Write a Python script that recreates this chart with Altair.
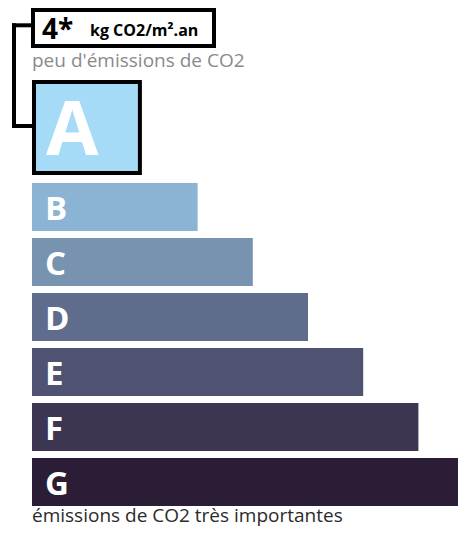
import altair as alt
import pandas as pd

# ---- data ----
classes = ["A", "B", "C", "D", "E", "F", "G"]
lengths = [2, 3, 4, 5, 6, 7, 8]          # relative bar lengths (class rank)
colors = ["#a6dbf7", "#8bb3d4", "#7793b0", "#5f6c8c", "#4f5270", "#3c3653", "#2b1d36"]
current_class = "A"
value_label = "4*"
unit_label = "kg CO2/m².an"
top_caption = "peu d'émissions de CO2"
bottom_caption = "émissions de CO2 très importantes"

# ---- layout ----
W, H = 426, 519
PX = 55.2                 # px per length unit
ROW = 55.0                # px per row
X_MAX = W / PX
Y0 = 1 - 175 / ROW
Y1 = Y0 + H / ROW
BAR_H = 48 / ROW
FONT = "Open Sans"

rows = []
for i, (c, l) in enumerate(zip(classes, lengths)):
    if c == current_class:
        y0, y1 = Y0 + 74 / ROW, Y0 + 165 / ROW
        ty = Y0 + 147 / ROW
    else:
        y0, y1 = float(i), i + BAR_H
        ty = i + 36.5 / ROW
    rows.append({"cls": c, "len": l, "y0": y0, "y1": y1, "ty": ty})
df = pd.DataFrame(rows)

xs = alt.Scale(domain=[0, X_MAX], nice=False, zero=False)
ys = alt.Scale(domain=[Y0, Y1], nice=False, zero=False, reverse=True)
cs = alt.Scale(domain=classes, range=colors)

base = alt.Chart(df)

bars = base.transform_filter(alt.datum.cls != current_class).transform_calculate(x0="0").mark_rect(clip=True).encode(
    x=alt.X("x0:Q", scale=xs, axis=None),
    x2="len:Q",
    y=alt.Y("y0:Q", scale=ys, axis=None),
    y2="y1:Q",
    color=alt.Color("cls:N", scale=cs, legend=None),
)

abox = base.transform_filter(alt.datum.cls == current_class).transform_calculate(x0="0").mark_rect(
    stroke="black", strokeWidth=4, xOffset=2, x2Offset=-2.5
).encode(
    x=alt.X("x0:Q", scale=xs, axis=None),
    x2="len:Q",
    y=alt.Y("y0:Q", scale=ys, axis=None),
    y2="y1:Q",
    color=alt.Color("cls:N", scale=cs, legend=None),
)

letters = base.transform_filter(alt.datum.cls != current_class).mark_text(
    align="left", baseline="alphabetic", font=FONT, fontSize=33, fontWeight="bold", color="white"
).encode(
    x=alt.value(13),
    y=alt.Y("ty:Q", scale=ys, axis=None),
    text="cls:N",
)

aletter = base.transform_filter(alt.datum.cls == current_class).mark_text(
    align="left", baseline="alphabetic", font=FONT, fontSize=76, fontWeight="bold", color="white"
).encode(
    x=alt.value(14),
    y=alt.Y("ty:Q", scale=ys, axis=None),
    text="cls:N",
)

one = alt.Chart(pd.DataFrame({"v": [value_label], "u": [unit_label],
                              "t": [top_caption], "b": [bottom_caption]}))

topbox = one.mark_rect(fill="white", stroke="black", strokeWidth=4).encode(
    x=alt.value(1), x2=alt.value(182), y=alt.value(2), y2=alt.value(38)
)
vtxt = one.mark_text(align="left", baseline="alphabetic", font=FONT, fontSize=28,
                     fontWeight="bold", color="black").encode(
    x=alt.value(10), y=alt.value(30.5), text="v:N")
utxt = one.mark_text(align="left", baseline="alphabetic", font=FONT, fontSize=16,
                     fontWeight="bold", color="black").encode(
    x=alt.value(58), y=alt.value(27.5), text="u:N")
ttxt = one.mark_text(align="left", baseline="alphabetic", font=FONT, fontSize=19,
                     color="#8a8a8a").encode(
    x=alt.value(0), y=alt.value(58.7), text="t:N")
btxt = one.mark_text(align="left", baseline="alphabetic", font=FONT, fontSize=19,
                     color="#2b2b2b").encode(
    x=alt.value(0), y=alt.value(514), text="b:N")

conn_kw = dict(stroke="black", strokeWidth=4, strokeCap="square")
c1 = one.mark_rule(**conn_kw).encode(x=alt.value(-18), x2=alt.value(0), y=alt.value(17.3))
c2 = one.mark_rule(**conn_kw).encode(x=alt.value(-18), y=alt.value(17.3), y2=alt.value(118))
c3 = one.mark_rule(**conn_kw).encode(x=alt.value(-18), x2=alt.value(0), y=alt.value(118))

chart = alt.layer(
    bars, c1, c2, c3, abox, letters, aletter, topbox, vtxt, utxt, ttxt, btxt
).properties(
    width=W, height=H,
    autosize=alt.AutoSizeParams(type="none"),
    padding={"left": 24, "top": 0, "right": 0, "bottom": 0},
    background="white",
).configure_view(stroke=None)

chart.save("out.html", embed_options={"renderer": "svg", "actions": False})
